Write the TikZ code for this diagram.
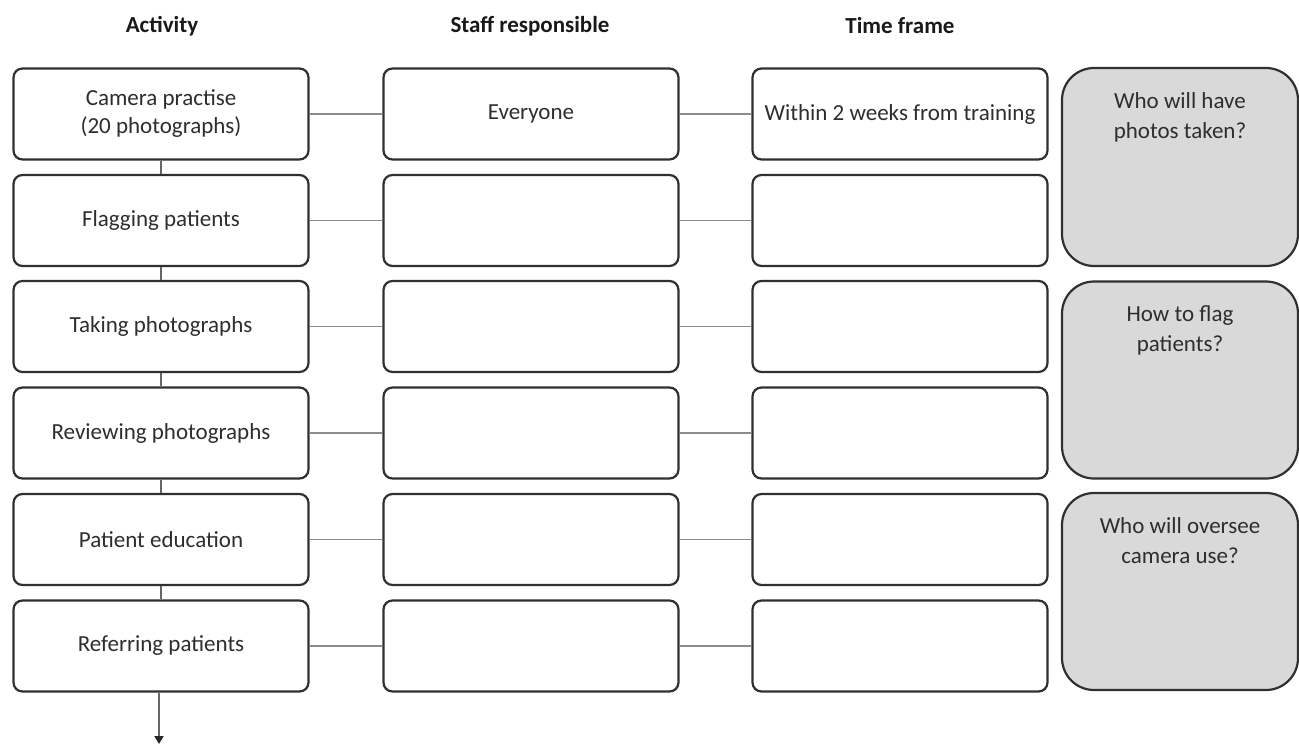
\documentclass[tikz,border=0pt]{standalone}
\usepackage{fontspec}
\setmainfont{Carlito}
\usetikzlibrary{arrows.meta}
\definecolor{boxline}{HTML}{303030}
\definecolor{txt}{HTML}{2E2E2E}
\definecolor{conn}{HTML}{8C8C8C}
\definecolor{vconn}{HTML}{666666}
\definecolor{greyfill}{HTML}{D9D9D9}
\begin{document}
\begin{tikzpicture}[x=1pt,y=-1pt,
  cell/.style={draw=boxline,line width=2.2pt,rounded corners=9pt,fill=white,
    minimum width=295pt,minimum height=91pt,inner sep=2pt,align=center,
    text=txt,font=\fontsize{23}{28}\selectfont},
  greybox/.style={draw=boxline,line width=2.2pt,rounded corners=32pt,fill=greyfill,
    minimum width=236pt,inner sep=0pt},
  greytxt/.style={anchor=north,align=center,text=txt,font=\fontsize{23}{30}\selectfont},
  head/.style={text=black!90,font=\fontsize{23}{26}\selectfont\bfseries},
  link/.style={draw=conn,line width=1.6pt},
  vlink/.style={draw=vconn,line width=1.8pt}]
\useasboundingbox (0,0) rectangle (1299,744);
\node[head] (h1) at (162,26) {Activity};
\node[head] (h2) at (530,26) {Staff responsible};
\node[head] (h3) at (900,26) {Time frame};
% rows
\node[cell] (a1) at (161,114) {Camera practise\\(20 photographs)};
\node[cell] (b1) at (531,114) {Everyone};
\node[cell] (c1) at (900,114) {Within 2 weeks from training};
\node[cell] (a2) at (161,220.5) {Flagging patients};
\node[cell] (b2) at (531,220.5) {};
\node[cell] (c2) at (900,220.5) {};
\node[cell] (a3) at (161,326.5) {Taking photographs};
\node[cell] (b3) at (531,326.5) {};
\node[cell] (c3) at (900,326.5) {};
\node[cell] (a4) at (161,433) {Reviewing photographs};
\node[cell] (b4) at (531,433) {};
\node[cell] (c4) at (900,433) {};
\node[cell] (a5) at (161,539.5) {Patient education};
\node[cell] (b5) at (531,539.5) {};
\node[cell] (c5) at (900,539.5) {};
\node[cell] (a6) at (161,646) {Referring patients};
\node[cell] (b6) at (531,646) {};
\node[cell] (c6) at (900,646) {};
% grey boxes
\node[greybox,minimum height=198pt] (g1) at (1180,167) {};
\node[greybox,minimum height=197pt] (g2) at (1180,380) {};
\node[greybox,minimum height=197pt] (g3) at (1180,591.5) {};
\node[greytxt] (g1t) at ([yshift=-22pt]g1.north) {Who will have\\photos taken?};
\node[greytxt] (g2t) at ([yshift=-22pt]g2.north) {How to flag\\patients?};
\node[greytxt] (g3t) at ([yshift=-22pt]g3.north) {Who will oversee\\camera use?};
% connectors
\foreach \i in {1,...,6}{
  \draw[link] (a\i.east) -- (b\i.west);
  \draw[link] (b\i.east) -- (c\i.west);
}
\foreach \i/\j in {1/2,2/3,3/4,4/5,5/6}{
  \draw[vlink] (a\i.south) -- (a\j.north);
}
\coordinate (end) at (159,744);
\draw[vlink,-{Triangle[length=8pt,width=9pt,color=black!85]}] ([xshift=-2pt]a6.south) -- (end);
\end{tikzpicture}
\end{document}
